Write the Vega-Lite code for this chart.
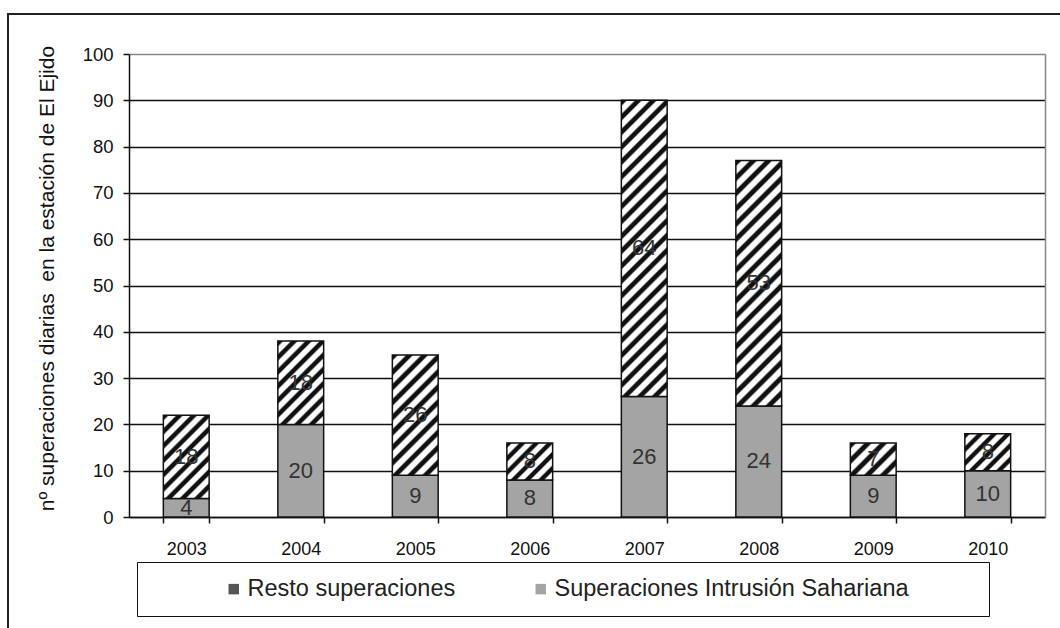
{
  "$schema": "https://vega.github.io/schema/vega-lite/v6.json",
  "autosize": "none",
  "padding": {"left": 8, "top": 14, "right": 0, "bottom": 0},
  "width": 1062,
  "height": 620,
  "background": "white",
  "config": {"font": "Liberation Sans", "view": {"stroke": "#222", "strokeWidth": 2}},
  "data": {"values": [
    {"year": "2003", "serie": "Superaciones Intrusión Sahariana", "value": 4},
    {"year": "2003", "serie": "Resto superaciones", "value": 18},
    {"year": "2004", "serie": "Superaciones Intrusión Sahariana", "value": 20},
    {"year": "2004", "serie": "Resto superaciones", "value": 18},
    {"year": "2005", "serie": "Superaciones Intrusión Sahariana", "value": 9},
    {"year": "2005", "serie": "Resto superaciones", "value": 26},
    {"year": "2006", "serie": "Superaciones Intrusión Sahariana", "value": 8},
    {"year": "2006", "serie": "Resto superaciones", "value": 8},
    {"year": "2007", "serie": "Superaciones Intrusión Sahariana", "value": 26},
    {"year": "2007", "serie": "Resto superaciones", "value": 64},
    {"year": "2008", "serie": "Superaciones Intrusión Sahariana", "value": 24},
    {"year": "2008", "serie": "Resto superaciones", "value": 53},
    {"year": "2009", "serie": "Superaciones Intrusión Sahariana", "value": 9},
    {"year": "2009", "serie": "Resto superaciones", "value": 7},
    {"year": "2010", "serie": "Superaciones Intrusión Sahariana", "value": 10},
    {"year": "2010", "serie": "Resto superaciones", "value": 8}
  ]},
  "transform": [
    {"stack": "value", "groupby": ["year"], "sort": [{"field": "serie", "order": "descending"}], "as": ["v0", "v1"]},
    {"calculate": "(datum.v0 + datum.v1) / 2", "as": "mid"}
  ],
  "layer": [
    {
      "mark": {"type": "bar", "stroke": "#111", "strokeWidth": 1.5},
      "encoding": {
        "x": {
          "field": "year", "type": "ordinal",
          "scale": {"range": [121, 1037], "paddingInner": 0.6, "paddingOuter": 0.3},
          "axis": {"title": null, "labelAngle": 0, "labelFontSize": 18, "labelColor": "#111", "labelPadding": 17,
                   "tickBand": "extent", "tickSize": 6, "tickColor": "#111", "tickWidth": 1.5,
                   "domainColor": "#111", "domainWidth": 1.5, "offset": -117, "grid": false}
        },
        "y": {
          "field": "v1", "type": "quantitative", "stack": null,
          "scale": {"domain": [0, 100], "range": [503, 40], "nice": false, "zero": true},
          "axis": {"title": "nº superaciones diarias \u00a0en la estación de El Ejido",
                   "values": [0, 10, 20, 30, 40, 50, 60, 70, 80, 90, 100],
                   "offset": -121, "grid": true,
                   "gridColor": {"condition": {"test": "datum.value === 100", "value": "#888"}, "value": "#111"},
                   "gridWidth": 1.5, "domainColor": "#111", "domainWidth": 1.5,
                   "tickSize": 6, "tickColor": "#111", "tickWidth": 1.5,
                   "labelFontSize": 18.5, "labelPadding": 10, "labelColor": "#111",
                   "titleFontSize": 21, "titleFontWeight": "normal", "titleColor": "#111",
                   "titleX": -82, "titleY": 264, "titleAngle": -90, "titleAlign": "center", "titleBaseline": "middle"}
        },
        "y2": {"field": "v0"},
        "fill": {
          "condition": [
            {"test": "datum.serie == 'Resto superaciones' && datum.value == 7",
             "value": {"gradient": "linear", "x1": 0, "y1": 0, "x2": 1.138, "y2": 0.805, "stops": [
              {"offset": 0, "color": "#111"}, {"offset": 0.06, "color": "#111"}, {"offset": 0.09, "color": "#fff"}, {"offset": 0.17, "color": "#fff"},
              {"offset": 0.2, "color": "#111"}, {"offset": 0.26, "color": "#111"}, {"offset": 0.29, "color": "#fff"}, {"offset": 0.37, "color": "#fff"},
              {"offset": 0.4, "color": "#111"}, {"offset": 0.46, "color": "#111"}, {"offset": 0.49, "color": "#fff"}, {"offset": 0.57, "color": "#fff"},
              {"offset": 0.6, "color": "#111"}, {"offset": 0.66, "color": "#111"}, {"offset": 0.69, "color": "#fff"}, {"offset": 0.77, "color": "#fff"},
              {"offset": 0.8, "color": "#111"}, {"offset": 0.86, "color": "#111"}, {"offset": 0.89, "color": "#fff"}, {"offset": 0.97, "color": "#fff"},
              {"offset": 1, "color": "#111"}]}},
            {"test": "datum.serie == 'Resto superaciones' && datum.value == 8",
             "value": {"gradient": "linear", "x1": 0, "y1": 0, "x2": 1.094, "y2": 0.884, "stops": [
              {"offset": 0, "color": "#111"}, {"offset": 0.05, "color": "#111"}, {"offset": 0.075, "color": "#fff"}, {"offset": 0.1417, "color": "#fff"},
              {"offset": 0.1667, "color": "#111"}, {"offset": 0.2167, "color": "#111"}, {"offset": 0.2417, "color": "#fff"}, {"offset": 0.3083, "color": "#fff"},
              {"offset": 0.3333, "color": "#111"}, {"offset": 0.3833, "color": "#111"}, {"offset": 0.4083, "color": "#fff"}, {"offset": 0.475, "color": "#fff"},
              {"offset": 0.5, "color": "#111"}, {"offset": 0.55, "color": "#111"}, {"offset": 0.575, "color": "#fff"}, {"offset": 0.6417, "color": "#fff"},
              {"offset": 0.6667, "color": "#111"}, {"offset": 0.7167, "color": "#111"}, {"offset": 0.7417, "color": "#fff"}, {"offset": 0.8083, "color": "#fff"},
              {"offset": 0.8333, "color": "#111"}, {"offset": 0.8833, "color": "#111"}, {"offset": 0.9083, "color": "#fff"}, {"offset": 0.975, "color": "#fff"},
              {"offset": 1, "color": "#111"}]}},
            {"test": "datum.serie == 'Resto superaciones' && datum.value == 18",
             "value": {"gradient": "linear", "x1": 0, "y1": 0, "x2": 0.654, "y2": 1.19, "stops": [
              {"offset": 0, "color": "#111"}, {"offset": 0.0333, "color": "#111"}, {"offset": 0.05, "color": "#fff"}, {"offset": 0.0944, "color": "#fff"},
              {"offset": 0.1111, "color": "#111"}, {"offset": 0.1444, "color": "#111"}, {"offset": 0.1611, "color": "#fff"}, {"offset": 0.2056, "color": "#fff"},
              {"offset": 0.2222, "color": "#111"}, {"offset": 0.2556, "color": "#111"}, {"offset": 0.2722, "color": "#fff"}, {"offset": 0.3167, "color": "#fff"},
              {"offset": 0.3333, "color": "#111"}, {"offset": 0.3667, "color": "#111"}, {"offset": 0.3833, "color": "#fff"}, {"offset": 0.4278, "color": "#fff"},
              {"offset": 0.4444, "color": "#111"}, {"offset": 0.4778, "color": "#111"}, {"offset": 0.4944, "color": "#fff"}, {"offset": 0.5389, "color": "#fff"},
              {"offset": 0.5556, "color": "#111"}, {"offset": 0.5889, "color": "#111"}, {"offset": 0.6056, "color": "#fff"}, {"offset": 0.65, "color": "#fff"},
              {"offset": 0.6667, "color": "#111"}, {"offset": 0.7, "color": "#111"}, {"offset": 0.7167, "color": "#fff"}, {"offset": 0.7611, "color": "#fff"},
              {"offset": 0.7778, "color": "#111"}, {"offset": 0.8111, "color": "#111"}, {"offset": 0.8278, "color": "#fff"}, {"offset": 0.8722, "color": "#fff"},
              {"offset": 0.8889, "color": "#111"}, {"offset": 0.9222, "color": "#111"}, {"offset": 0.9389, "color": "#fff"}, {"offset": 0.9833, "color": "#fff"},
              {"offset": 1, "color": "#111"}]}},
            {"test": "datum.serie == 'Resto superaciones' && datum.value == 26",
             "value": {"gradient": "linear", "x1": 0, "y1": 0, "x2": 0.459, "y2": 1.206, "stops": [
              {"offset": 0, "color": "#111"}, {"offset": 0.0273, "color": "#111"}, {"offset": 0.0409, "color": "#fff"}, {"offset": 0.0773, "color": "#fff"},
              {"offset": 0.0909, "color": "#111"}, {"offset": 0.1182, "color": "#111"}, {"offset": 0.1318, "color": "#fff"}, {"offset": 0.1682, "color": "#fff"},
              {"offset": 0.1818, "color": "#111"}, {"offset": 0.2091, "color": "#111"}, {"offset": 0.2227, "color": "#fff"}, {"offset": 0.2591, "color": "#fff"},
              {"offset": 0.2727, "color": "#111"}, {"offset": 0.3, "color": "#111"}, {"offset": 0.3136, "color": "#fff"}, {"offset": 0.35, "color": "#fff"},
              {"offset": 0.3636, "color": "#111"}, {"offset": 0.3909, "color": "#111"}, {"offset": 0.4045, "color": "#fff"}, {"offset": 0.4409, "color": "#fff"},
              {"offset": 0.4545, "color": "#111"}, {"offset": 0.4818, "color": "#111"}, {"offset": 0.4955, "color": "#fff"}, {"offset": 0.5318, "color": "#fff"},
              {"offset": 0.5455, "color": "#111"}, {"offset": 0.5727, "color": "#111"}, {"offset": 0.5864, "color": "#fff"}, {"offset": 0.6227, "color": "#fff"},
              {"offset": 0.6364, "color": "#111"}, {"offset": 0.6636, "color": "#111"}, {"offset": 0.6773, "color": "#fff"}, {"offset": 0.7136, "color": "#fff"},
              {"offset": 0.7273, "color": "#111"}, {"offset": 0.7545, "color": "#111"}, {"offset": 0.7682, "color": "#fff"}, {"offset": 0.8045, "color": "#fff"},
              {"offset": 0.8182, "color": "#111"}, {"offset": 0.8455, "color": "#111"}, {"offset": 0.8591, "color": "#fff"}, {"offset": 0.8955, "color": "#fff"},
              {"offset": 0.9091, "color": "#111"}, {"offset": 0.9364, "color": "#111"}, {"offset": 0.95, "color": "#fff"}, {"offset": 0.9864, "color": "#fff"},
              {"offset": 1, "color": "#111"}]}},
            {"test": "datum.serie == 'Resto superaciones' && datum.value == 53",
             "value": {"gradient": "linear", "x1": 0, "y1": 0, "x2": 0.214, "y2": 1.147, "stops": [
              {"offset": 0, "color": "#111"}, {"offset": 0.0158, "color": "#111"}, {"offset": 0.0237, "color": "#fff"}, {"offset": 0.0447, "color": "#fff"},
              {"offset": 0.0526, "color": "#111"}, {"offset": 0.0684, "color": "#111"}, {"offset": 0.0763, "color": "#fff"}, {"offset": 0.0974, "color": "#fff"},
              {"offset": 0.1053, "color": "#111"}, {"offset": 0.1211, "color": "#111"}, {"offset": 0.1289, "color": "#fff"}, {"offset": 0.15, "color": "#fff"},
              {"offset": 0.1579, "color": "#111"}, {"offset": 0.1737, "color": "#111"}, {"offset": 0.1816, "color": "#fff"}, {"offset": 0.2026, "color": "#fff"},
              {"offset": 0.2105, "color": "#111"}, {"offset": 0.2263, "color": "#111"}, {"offset": 0.2342, "color": "#fff"}, {"offset": 0.2553, "color": "#fff"},
              {"offset": 0.2632, "color": "#111"}, {"offset": 0.2789, "color": "#111"}, {"offset": 0.2868, "color": "#fff"}, {"offset": 0.3079, "color": "#fff"},
              {"offset": 0.3158, "color": "#111"}, {"offset": 0.3316, "color": "#111"}, {"offset": 0.3395, "color": "#fff"}, {"offset": 0.3605, "color": "#fff"},
              {"offset": 0.3684, "color": "#111"}, {"offset": 0.3842, "color": "#111"}, {"offset": 0.3921, "color": "#fff"}, {"offset": 0.4132, "color": "#fff"},
              {"offset": 0.4211, "color": "#111"}, {"offset": 0.4368, "color": "#111"}, {"offset": 0.4447, "color": "#fff"}, {"offset": 0.4658, "color": "#fff"},
              {"offset": 0.4737, "color": "#111"}, {"offset": 0.4895, "color": "#111"}, {"offset": 0.4974, "color": "#fff"}, {"offset": 0.5184, "color": "#fff"},
              {"offset": 0.5263, "color": "#111"}, {"offset": 0.5421, "color": "#111"}, {"offset": 0.55, "color": "#fff"}, {"offset": 0.5711, "color": "#fff"},
              {"offset": 0.5789, "color": "#111"}, {"offset": 0.5947, "color": "#111"}, {"offset": 0.6026, "color": "#fff"}, {"offset": 0.6237, "color": "#fff"},
              {"offset": 0.6316, "color": "#111"}, {"offset": 0.6474, "color": "#111"}, {"offset": 0.6553, "color": "#fff"}, {"offset": 0.6763, "color": "#fff"},
              {"offset": 0.6842, "color": "#111"}, {"offset": 0.7, "color": "#111"}, {"offset": 0.7079, "color": "#fff"}, {"offset": 0.7289, "color": "#fff"},
              {"offset": 0.7368, "color": "#111"}, {"offset": 0.7526, "color": "#111"}, {"offset": 0.7605, "color": "#fff"}, {"offset": 0.7816, "color": "#fff"},
              {"offset": 0.7895, "color": "#111"}, {"offset": 0.8053, "color": "#111"}, {"offset": 0.8132, "color": "#fff"}, {"offset": 0.8342, "color": "#fff"},
              {"offset": 0.8421, "color": "#111"}, {"offset": 0.8579, "color": "#111"}, {"offset": 0.8658, "color": "#fff"}, {"offset": 0.8868, "color": "#fff"},
              {"offset": 0.8947, "color": "#111"}, {"offset": 0.9105, "color": "#111"}, {"offset": 0.9184, "color": "#fff"}, {"offset": 0.9395, "color": "#fff"},
              {"offset": 0.9474, "color": "#111"}, {"offset": 0.9632, "color": "#111"}, {"offset": 0.9711, "color": "#fff"}, {"offset": 0.9921, "color": "#fff"},
              {"offset": 1, "color": "#111"}]}},
            {"test": "datum.serie == 'Resto superaciones' && datum.value == 64",
             "value": {"gradient": "linear", "x1": 0, "y1": 0, "x2": 0.174, "y2": 1.128, "stops": [
              {"offset": 0, "color": "#111"}, {"offset": 0.013, "color": "#111"}, {"offset": 0.0196, "color": "#fff"}, {"offset": 0.037, "color": "#fff"},
              {"offset": 0.0435, "color": "#111"}, {"offset": 0.0565, "color": "#111"}, {"offset": 0.063, "color": "#fff"}, {"offset": 0.0804, "color": "#fff"},
              {"offset": 0.087, "color": "#111"}, {"offset": 0.1, "color": "#111"}, {"offset": 0.1065, "color": "#fff"}, {"offset": 0.1239, "color": "#fff"},
              {"offset": 0.1304, "color": "#111"}, {"offset": 0.1435, "color": "#111"}, {"offset": 0.15, "color": "#fff"}, {"offset": 0.1674, "color": "#fff"},
              {"offset": 0.1739, "color": "#111"}, {"offset": 0.187, "color": "#111"}, {"offset": 0.1935, "color": "#fff"}, {"offset": 0.2109, "color": "#fff"},
              {"offset": 0.2174, "color": "#111"}, {"offset": 0.2304, "color": "#111"}, {"offset": 0.237, "color": "#fff"}, {"offset": 0.2543, "color": "#fff"},
              {"offset": 0.2609, "color": "#111"}, {"offset": 0.2739, "color": "#111"}, {"offset": 0.2804, "color": "#fff"}, {"offset": 0.2978, "color": "#fff"},
              {"offset": 0.3043, "color": "#111"}, {"offset": 0.3174, "color": "#111"}, {"offset": 0.3239, "color": "#fff"}, {"offset": 0.3413, "color": "#fff"},
              {"offset": 0.3478, "color": "#111"}, {"offset": 0.3609, "color": "#111"}, {"offset": 0.3674, "color": "#fff"}, {"offset": 0.3848, "color": "#fff"},
              {"offset": 0.3913, "color": "#111"}, {"offset": 0.4043, "color": "#111"}, {"offset": 0.4109, "color": "#fff"}, {"offset": 0.4283, "color": "#fff"},
              {"offset": 0.4348, "color": "#111"}, {"offset": 0.4478, "color": "#111"}, {"offset": 0.4543, "color": "#fff"}, {"offset": 0.4717, "color": "#fff"},
              {"offset": 0.4783, "color": "#111"}, {"offset": 0.4913, "color": "#111"}, {"offset": 0.4978, "color": "#fff"}, {"offset": 0.5152, "color": "#fff"},
              {"offset": 0.5217, "color": "#111"}, {"offset": 0.5348, "color": "#111"}, {"offset": 0.5413, "color": "#fff"}, {"offset": 0.5587, "color": "#fff"},
              {"offset": 0.5652, "color": "#111"}, {"offset": 0.5783, "color": "#111"}, {"offset": 0.5848, "color": "#fff"}, {"offset": 0.6022, "color": "#fff"},
              {"offset": 0.6087, "color": "#111"}, {"offset": 0.6217, "color": "#111"}, {"offset": 0.6283, "color": "#fff"}, {"offset": 0.6457, "color": "#fff"},
              {"offset": 0.6522, "color": "#111"}, {"offset": 0.6652, "color": "#111"}, {"offset": 0.6717, "color": "#fff"}, {"offset": 0.6891, "color": "#fff"},
              {"offset": 0.6957, "color": "#111"}, {"offset": 0.7087, "color": "#111"}, {"offset": 0.7152, "color": "#fff"}, {"offset": 0.7326, "color": "#fff"},
              {"offset": 0.7391, "color": "#111"}, {"offset": 0.7522, "color": "#111"}, {"offset": 0.7587, "color": "#fff"}, {"offset": 0.7761, "color": "#fff"},
              {"offset": 0.7826, "color": "#111"}, {"offset": 0.7957, "color": "#111"}, {"offset": 0.8022, "color": "#fff"}, {"offset": 0.8196, "color": "#fff"},
              {"offset": 0.8261, "color": "#111"}, {"offset": 0.8391, "color": "#111"}, {"offset": 0.8457, "color": "#fff"}, {"offset": 0.863, "color": "#fff"},
              {"offset": 0.8696, "color": "#111"}, {"offset": 0.8826, "color": "#111"}, {"offset": 0.8891, "color": "#fff"}, {"offset": 0.9065, "color": "#fff"},
              {"offset": 0.913, "color": "#111"}, {"offset": 0.9261, "color": "#111"}, {"offset": 0.9326, "color": "#fff"}, {"offset": 0.95, "color": "#fff"},
              {"offset": 0.9565, "color": "#111"}, {"offset": 0.9696, "color": "#111"}, {"offset": 0.9761, "color": "#fff"}, {"offset": 0.9935, "color": "#fff"},
              {"offset": 1, "color": "#111"}]}}
          ],
          "field": "serie", "type": "nominal",
          "scale": {
            "domain": ["Resto superaciones", "Superaciones Intrusión Sahariana"],
            "range": ["#555555", "#a4a4a4"]
          },
          "legend": {
            "orient": "none", "legendX": 129, "legendY": 548, "direction": "horizontal",
            "title": "x", "titleOrient": "right", "titleColor": "white", "titleFontSize": 10, "titlePadding": 59,
            "padding": 15, "strokeColor": "#111",
            "symbolType": "square", "symbolSize": 110, "symbolStrokeColor": "#111", "symbolStrokeWidth": 1,
            "symbolOffset": 70, "columnPadding": 3, "labelOffset": 2,
            "labelFontSize": 23.5, "labelColor": "#222", "labelLimit": 500,
            "encode": {"symbols": {"update": {"fill": [
              {"test": "datum.value === 'Resto superaciones'",
               "value": {"gradient": "linear", "x1": 0, "y1": 0, "x2": 1, "y2": 1, "stops": [
                {"offset": 0, "color": "#fff"}, {"offset": 0.3, "color": "#fff"}, {"offset": 0.4, "color": "#111"},
                {"offset": 0.65, "color": "#111"}, {"offset": 0.75, "color": "#fff"}, {"offset": 1, "color": "#fff"}]}},
              {"value": "#a4a4a4"}
            ]}}}
          }
        }
      }
    },
    {
      "mark": {"type": "text", "fontSize": 22, "color": "#333", "baseline": "middle"},
      "encoding": {
        "x": {"field": "year", "type": "ordinal"},
        "y": {"field": "mid", "type": "quantitative",
              "axis": {"orient": "right", "offset": -25, "title": null, "labels": false, "ticks": false, "grid": false,
                       "domainColor": "#888", "domainWidth": 1.5}},
        "text": {"field": "value", "type": "quantitative"}
      }
    }
  ],
  "resolve": {"axis": {"y": "independent"}}
}
